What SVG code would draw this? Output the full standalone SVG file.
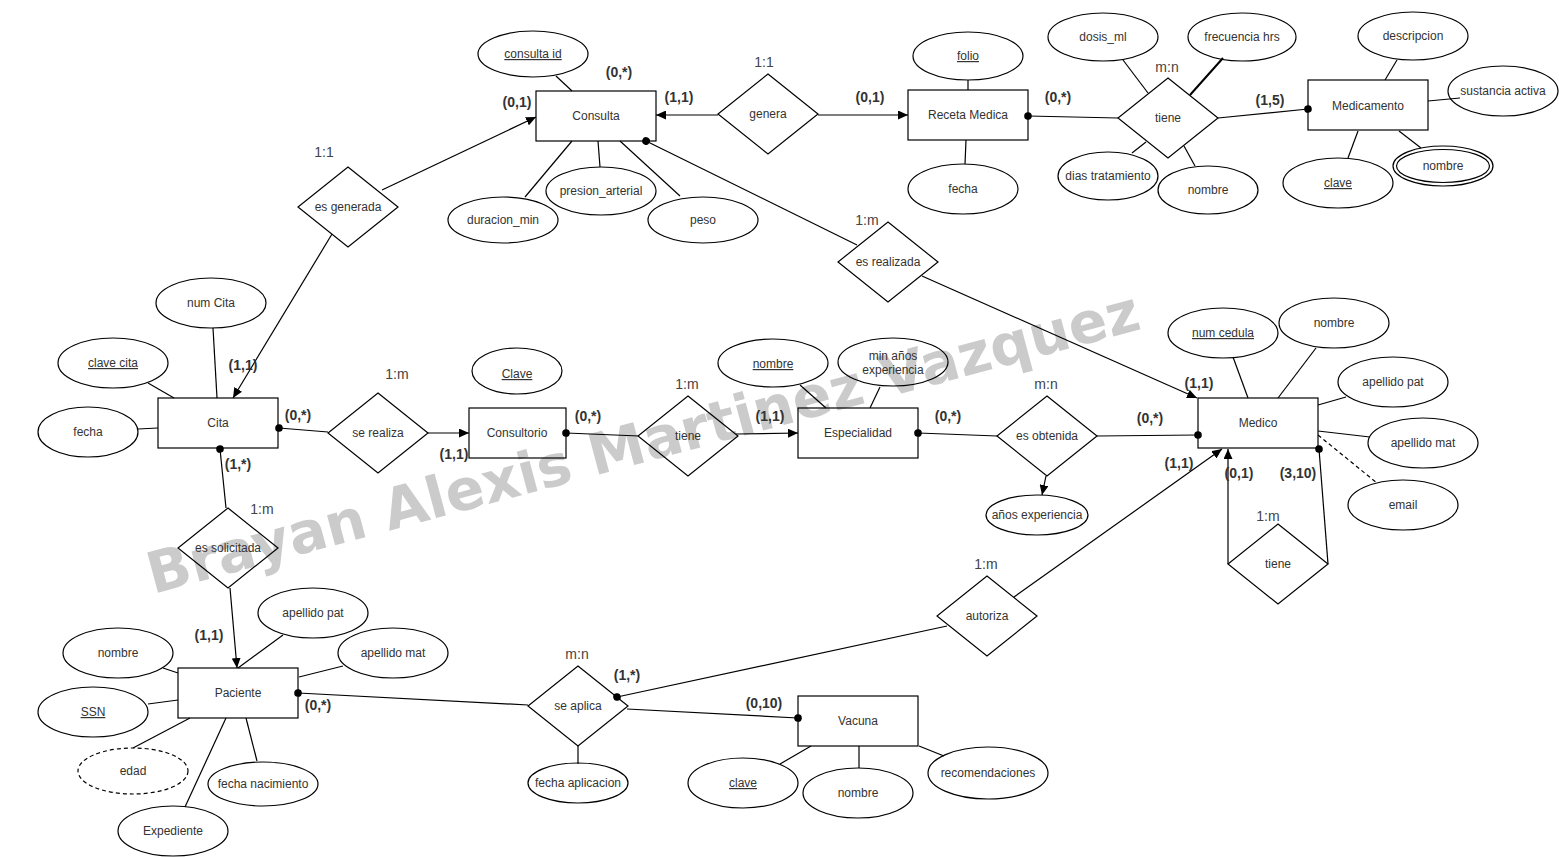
<svg xmlns="http://www.w3.org/2000/svg" width="1559" height="857" viewBox="0 0 1559 857">
<style>
.bg{fill:#ffffff}
.wm{font-family:"DejaVu Sans",Verdana,sans-serif;font-weight:bold;font-size:57px;fill:#cbcbcb}
.ent,.rel,.att{fill:none;stroke:#000;stroke-width:1.2}
.dash{stroke-dasharray:4 3}
.t{font-family:"Liberation Sans",Arial,sans-serif;font-size:12px;fill:#333;text-anchor:middle}
.u{text-decoration:underline}
.card{font-family:"Liberation Sans",Arial,sans-serif;font-size:14px;font-weight:bold;fill:#333;text-anchor:middle}
.rl{font-family:"Liberation Sans",Arial,sans-serif;font-size:14px;fill:#444;text-anchor:middle}
.c{fill:none;stroke:#000;stroke-width:1.2}
.ar{marker-end:url(#arrow)}
.ds{marker-start:url(#dot)}
.de{marker-end:url(#dot)}
</style>
<defs>
<marker id="arrow" markerUnits="userSpaceOnUse" markerWidth="11" markerHeight="9" refX="10" refY="4.5" orient="auto"><path d="M0,0 L10,4.5 L0,9 z" fill="#000"/></marker>
<marker id="dot" markerUnits="userSpaceOnUse" markerWidth="10" markerHeight="10" refX="5" refY="5" orient="auto"><circle cx="5" cy="5" r="3.8" fill="#000"/></marker>
</defs>
<rect class="bg" x="0" y="0" width="1559" height="857"/>
<text class="wm" x="153" y="594" transform="rotate(-15 153 594)">Brayan Alexis Martinez Vazquez</text>

<g id="connectors">
<path class="c" d="M556,76 L572,91"/>
<path class="c" d="M572,141 L525,197"/>
<path class="c" d="M598,141 L600,167"/>
<path class="c" d="M620,141 L680,196"/>
<path class="c ar" d="M718,115 L656,115"/>
<path class="c ar" d="M818,115 L908,115"/>
<path class="c ds" d="M1028,116 L1118,118"/>
<path class="c" d="M968,90 L968,80"/>
<path class="c" d="M966,140 L965,164"/>
<path class="c" d="M1148,93 L1123,60"/>
<path class="c" style="stroke-width:2" d="M1190,95 L1223,58"/>
<path class="c" d="M1146,142 L1132,153"/>
<path class="c" d="M1184,146 L1195,166"/>
<path class="c de" d="M1218,118 L1308,109"/>
<path class="c" d="M1385,80 L1397,60"/>
<path class="c" d="M1428,101 L1460,98"/>
<path class="c" d="M1399,131 L1421,148"/>
<path class="c" d="M1358,131 L1348,158"/>
<path class="c ar" d="M382,190 L536,117"/>
<path class="c ar" d="M332,234 L233,398"/>
<path class="c" d="M217,398 L213,328"/>
<path class="c" d="M174,398 L148,383"/>
<path class="c" d="M158,428 L138,429"/>
<path class="c ds" d="M279,428 L328,432"/>
<path class="c ar" d="M428,433 L469,433"/>
<path class="c ds" d="M220,449 L226,508"/>
<path class="c ar" d="M230,588 L237,668"/>
<path class="c" d="M238,668 L283,635"/>
<path class="c" d="M299,677 L343,666"/>
<path class="c" d="M178,673 L163,668"/>
<path class="c" d="M178,700 L148,704"/>
<path class="c" d="M190,718 L133,748"/>
<path class="c" d="M226,718 L185,807"/>
<path class="c" d="M246,718 L257,761"/>
<path class="c ds" d="M298,693 L528,705"/>
<path class="c ds" d="M617,697 L947,626"/>
<path class="c de" d="M627,709 L798,718"/>
<path class="c" d="M578,746 L578,764"/>
<path class="c" d="M811,746 L780,764"/>
<path class="c" d="M859,746 L859,768"/>
<path class="c" d="M919,746 L944,756"/>
<path class="c ar" d="M1014,597 L1222,449"/>
<path class="c ar" d="M922,276 L1197,398"/>
<path class="c ds" d="M646,141 L857,245"/>
<path class="c ds" d="M566,433 L639,436"/>
<path class="c ar" d="M736,434 L798,433"/>
<path class="c" d="M826,408 L800,385"/>
<path class="c" d="M870,408 L880,387"/>
<path class="c ds" d="M918,433 L997,436"/>
<path class="c de" d="M1097,436 L1198,435"/>
<path class="c ar" d="M1046,476 L1042,495"/>
<path class="c" d="M1248,398 L1233,357"/>
<path class="c" d="M1278,398 L1316,348"/>
<path class="c" d="M1318,405 L1346,397"/>
<path class="c" d="M1318,431 L1370,437"/>
<path class="c dash" d="M1318,435 L1377,483"/>
<path class="c ar" d="M1228,564 L1228,449"/>
<path class="c de" d="M1328,564 L1319,449"/>
</g>

<g id="e-consulta"><rect class="ent" x="536" y="91" width="120" height="50"/><text class="t" x="596" y="120">Consulta</text></g>
<g id="e-receta"><rect class="ent" x="908" y="90" width="120" height="50"/><text class="t" x="968" y="119">Receta Medica</text></g>
<g id="e-medicamento"><rect class="ent" x="1308" y="80" width="120" height="50"/><text class="t" x="1368" y="110">Medicamento</text></g>
<g id="e-cita"><rect class="ent" x="158" y="398" width="120" height="50"/><text class="t" x="218" y="427">Cita</text></g>
<g id="e-consultorio"><rect class="ent" x="469" y="408" width="97" height="50"/><text class="t" x="517" y="437">Consultorio</text></g>
<g id="e-especialidad"><rect class="ent" x="798" y="408" width="120" height="50"/><text class="t" x="858" y="437">Especialidad</text></g>
<g id="e-medico"><rect class="ent" x="1198" y="398" width="120" height="50"/><text class="t" x="1258" y="427">Medico</text></g>
<g id="e-paciente"><rect class="ent" x="178" y="668" width="120" height="50"/><text class="t" x="238" y="697">Paciente</text></g>
<g id="e-vacuna"><rect class="ent" x="798" y="696" width="120" height="50"/><text class="t" x="858" y="725">Vacuna</text></g>

<g id="r-genera"><polygon class="rel" points="768,74 818,114 768,154 718,114"/><text class="t" x="768" y="118">genera</text><text class="rl" x="764" y="67">1:1</text></g>
<g id="r-tiene-receta"><polygon class="rel" points="1168,78 1218,118 1168,158 1118,118"/><text class="t" x="1168" y="122">tiene</text><text class="rl" x="1167" y="72">m:n</text></g>
<g id="r-es-generada"><polygon class="rel" points="348,167 398,207 348,247 298,207"/><text class="t" x="348" y="211">es generada</text><text class="rl" x="324" y="157">1:1</text></g>
<g id="r-se-realiza"><polygon class="rel" points="378,393 428,433 378,473 328,433"/><text class="t" x="378" y="437">se realiza</text><text class="rl" x="397" y="379">1:m</text></g>
<g id="r-tiene-esp"><polygon class="rel" points="688,396 738,436 688,476 638,436"/><text class="t" x="688" y="440">tiene</text><text class="rl" x="687" y="389">1:m</text></g>
<g id="r-es-obtenida"><polygon class="rel" points="1047,396 1097,436 1047,476 997,436"/><text class="t" x="1047" y="440">es obtenida</text><text class="rl" x="1046" y="389">m:n</text></g>
<g id="r-es-realizada"><polygon class="rel" points="888,222 938,262 888,302 838,262"/><text class="t" x="888" y="266">es realizada</text><text class="rl" x="867" y="225">1:m</text></g>
<g id="r-es-solicitada"><polygon class="rel" points="228,508 278,548 228,588 178,548"/><text class="t" x="228" y="552">es solicitada</text><text class="rl" x="262" y="514">1:m</text></g>
<g id="r-se-aplica"><polygon class="rel" points="578,666 628,706 578,746 528,706"/><text class="t" x="578" y="710">se aplica</text><text class="rl" x="577" y="659">m:n</text></g>
<g id="r-autoriza"><polygon class="rel" points="987,576 1037,616 987,656 937,616"/><text class="t" x="987" y="620">autoriza</text><text class="rl" x="986" y="569">1:m</text></g>
<g id="r-tiene-medico"><polygon class="rel" points="1278,524 1328,564 1278,604 1228,564"/><text class="t" x="1278" y="568">tiene</text><text class="rl" x="1268" y="521">1:m</text></g>

<g id="a-consulta-id"><ellipse class="att" cx="533" cy="54" rx="55" ry="23"/><text class="t u" x="533" y="58">consulta id</text></g>
<g id="a-duracion"><ellipse class="att" cx="503" cy="220" rx="55" ry="23"/><text class="t" x="503" y="224">duracion_min</text></g>
<g id="a-presion"><ellipse class="att" cx="601" cy="191" rx="55" ry="24"/><text class="t" x="601" y="195">presion_arterial</text></g>
<g id="a-peso"><ellipse class="att" cx="703" cy="220" rx="55" ry="23"/><text class="t" x="703" y="224">peso</text></g>
<g id="a-folio"><ellipse class="att" cx="968" cy="56" rx="55" ry="24"/><text class="t u" x="968" y="60">folio</text></g>
<g id="a-fecha-receta"><ellipse class="att" cx="963" cy="189" rx="55" ry="25"/><text class="t" x="963" y="193">fecha</text></g>
<g id="a-dosis"><ellipse class="att" cx="1103" cy="37" rx="55" ry="24"/><text class="t" x="1103" y="41">dosis_ml</text></g>
<g id="a-frecuencia"><ellipse class="att" cx="1242" cy="37" rx="54" ry="24"/><text class="t" x="1242" y="41">frecuencia hrs</text></g>
<g id="a-dias"><ellipse class="att" cx="1108" cy="176" rx="50" ry="24"/><text class="t" x="1108" y="180">dias tratamiento</text></g>
<g id="a-nombre-tiene"><ellipse class="att" cx="1208" cy="190" rx="50" ry="24"/><text class="t" x="1208" y="194">nombre</text></g>
<g id="a-descripcion"><ellipse class="att" cx="1413" cy="36" rx="55" ry="24"/><text class="t" x="1413" y="40">descripcion</text></g>
<g id="a-sustancia"><ellipse class="att" cx="1503" cy="91" rx="55" ry="25"/><text class="t" x="1503" y="95">sustancia activa</text></g>
<g id="a-nombre-med"><ellipse class="att" cx="1443" cy="166" rx="50" ry="20"/><ellipse class="att" cx="1443" cy="166" rx="46.5" ry="16.5"/><text class="t" x="1443" y="170">nombre</text></g>
<g id="a-clave-med"><ellipse class="att" cx="1338" cy="183" rx="55" ry="25"/><text class="t u" x="1338" y="187">clave</text></g>
<g id="a-num-cita"><ellipse class="att" cx="211" cy="303" rx="55" ry="25"/><text class="t" x="211" y="307">num Cita</text></g>
<g id="a-clave-cita"><ellipse class="att" cx="113" cy="363" rx="55" ry="25"/><text class="t u" x="113" y="367">clave cita</text></g>
<g id="a-fecha-cita"><ellipse class="att" cx="88" cy="432" rx="50" ry="25"/><text class="t" x="88" y="436">fecha</text></g>
<g id="a-clave-consultorio"><ellipse class="att" cx="517" cy="371" rx="45" ry="23"/><text class="t u" x="517" y="378">Clave</text></g>
<g id="a-nombre-esp"><ellipse class="att" cx="773" cy="363" rx="55" ry="24"/><text class="t u" x="773" y="368">nombre</text></g>
<g id="a-min-anos"><ellipse class="att" cx="893" cy="362" rx="55" ry="24"/><text class="t" x="893" y="360">min años</text><text class="t" x="893" y="374">experiencia</text></g>
<g id="a-anos-exp"><ellipse class="att" cx="1037" cy="515" rx="51" ry="20"/><text class="t" x="1037" y="519">años experiencia</text></g>
<g id="a-num-cedula"><ellipse class="att" cx="1223" cy="333" rx="55" ry="25"/><text class="t u" x="1223" y="337">num cedula</text></g>
<g id="a-nombre-medico"><ellipse class="att" cx="1334" cy="323" rx="55" ry="25"/><text class="t" x="1334" y="327">nombre</text></g>
<g id="a-ap-pat-medico"><ellipse class="att" cx="1393" cy="382" rx="55" ry="25"/><text class="t" x="1393" y="386">apellido pat</text></g>
<g id="a-ap-mat-medico"><ellipse class="att" cx="1423" cy="443" rx="55" ry="25"/><text class="t" x="1423" y="447">apellido mat</text></g>
<g id="a-email"><ellipse class="att" cx="1403" cy="505" rx="55" ry="25"/><text class="t" x="1403" y="509">email</text></g>
<g id="a-ap-pat-pac"><ellipse class="att" cx="313" cy="613" rx="55" ry="25"/><text class="t" x="313" y="617">apellido pat</text></g>
<g id="a-ap-mat-pac"><ellipse class="att" cx="393" cy="653" rx="55" ry="25"/><text class="t" x="393" y="657">apellido mat</text></g>
<g id="a-nombre-pac"><ellipse class="att" cx="118" cy="653" rx="55" ry="25"/><text class="t" x="118" y="657">nombre</text></g>
<g id="a-ssn"><ellipse class="att" cx="93" cy="712" rx="55" ry="25"/><text class="t u" x="93" y="716">SSN</text></g>
<g id="a-edad"><ellipse class="att dash" cx="133" cy="771" rx="55" ry="23"/><text class="t" x="133" y="775">edad</text></g>
<g id="a-fecha-nac"><ellipse class="att" cx="263" cy="784" rx="55" ry="22"/><text class="t" x="263" y="788">fecha nacimiento</text></g>
<g id="a-expediente"><ellipse class="att" cx="173" cy="831" rx="55" ry="25"/><text class="t" x="173" y="835">Expediente</text></g>
<g id="a-fecha-apl"><ellipse class="att" cx="578" cy="783" rx="50" ry="20"/><text class="t" x="578" y="787">fecha aplicacion</text></g>
<g id="a-clave-vac"><ellipse class="att" cx="743" cy="783" rx="55" ry="25"/><text class="t u" x="743" y="787">clave</text></g>
<g id="a-nombre-vac"><ellipse class="att" cx="858" cy="793" rx="55" ry="25"/><text class="t" x="858" y="797">nombre</text></g>
<g id="a-recomendaciones"><ellipse class="att" cx="988" cy="773" rx="60" ry="26"/><text class="t" x="988" y="777">recomendaciones</text></g>

<g id="cardinalities">
<text class="card" x="619" y="77">(0,*)</text>
<text class="card" x="517" y="107">(0,1)</text>
<text class="card" x="679" y="102">(1,1)</text>
<text class="card" x="870" y="102">(0,1)</text>
<text class="card" x="1058" y="102">(0,*)</text>
<text class="card" x="1270" y="105">(1,5)</text>
<text class="card" x="243" y="370">(1,1)</text>
<text class="card" x="298" y="420">(0,*)</text>
<text class="card" x="454" y="459">(1,1)</text>
<text class="card" x="238" y="469">(1,*)</text>
<text class="card" x="209" y="640">(1,1)</text>
<text class="card" x="318" y="710">(0,*)</text>
<text class="card" x="588" y="421">(0,*)</text>
<text class="card" x="770" y="421">(1,1)</text>
<text class="card" x="948" y="421">(0,*)</text>
<text class="card" x="1150" y="423">(0,*)</text>
<text class="card" x="1199" y="388">(1,1)</text>
<text class="card" x="1179" y="468">(1,1)</text>
<text class="card" x="1239" y="478">(0,1)</text>
<text class="card" x="1298" y="478">(3,10)</text>
<text class="card" x="627" y="680">(1,*)</text>
<text class="card" x="764" y="708">(0,10)</text>
</g>
</svg>
